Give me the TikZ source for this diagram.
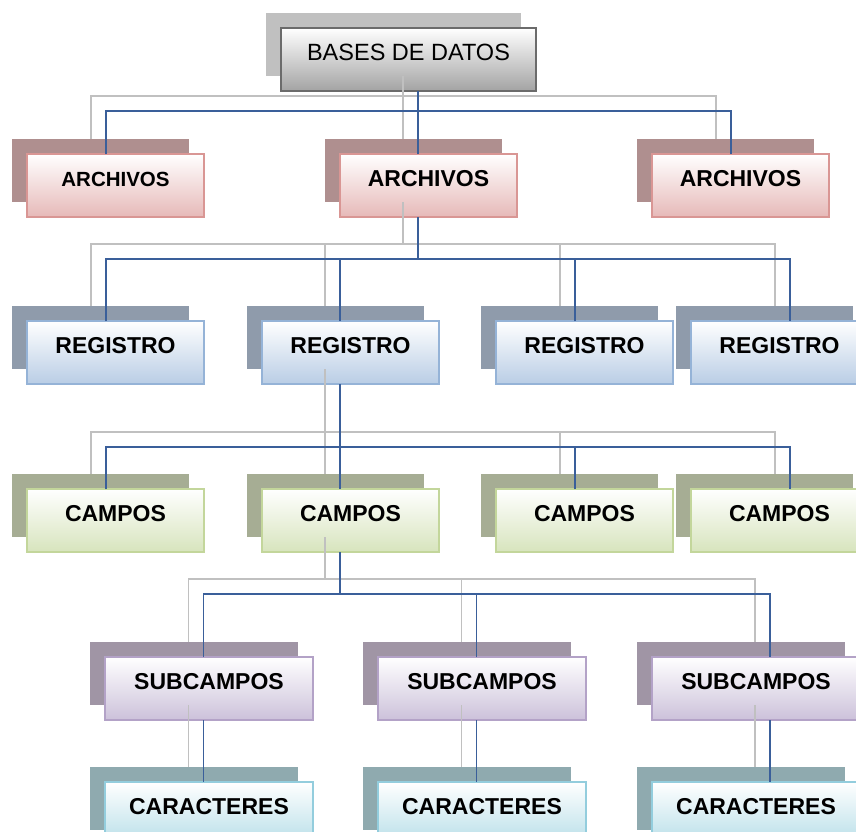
\documentclass[tikz,border=0pt]{standalone}
\usepackage{fontspec}
\setmainfont{Liberation Sans}
\definecolor{topsh}{HTML}{C0C0C0}
\definecolor{topbd}{HTML}{6B6B6B}
\definecolor{topbt}{HTML}{A3A3A3}
\definecolor{arsh}{HTML}{AF8F8F}
\definecolor{arbd}{HTML}{D99694}
\definecolor{arbt}{HTML}{E6B9B8}
\definecolor{resh}{HTML}{8F9BAB}
\definecolor{rebd}{HTML}{95B3D7}
\definecolor{rebt}{HTML}{B9CDE5}
\definecolor{cash}{HTML}{A6AD94}
\definecolor{cabd}{HTML}{C3D69B}
\definecolor{cabt}{HTML}{D7E4BD}
\definecolor{sush}{HTML}{A095A5}
\definecolor{subd}{HTML}{B3A2C7}
\definecolor{subt}{HTML}{CCC1DA}
\definecolor{crsh}{HTML}{8FAAAF}
\definecolor{crbd}{HTML}{93CDDD}
\definecolor{crbt}{HTML}{B7DEE8}
\definecolor{conn}{HTML}{3A5F9A}
\definecolor{gline}{HTML}{C0C0C0}
\tikzset{
  base/.style={inner sep=0pt, outer sep=0pt, text height=32.5pt, text depth=30.5pt, anchor=north west,
    font=\fontsize{23}{27}\selectfont\bfseries},
  narrow/.style={base, minimum width=177pt},
  wide/.style={base, minimum width=208pt},
  boxbd/.style={draw=#1, line width=2pt},
  topbox/.style={base, minimum width=255pt, draw=topbd, line width=2pt, top color=white, bottom color=topbt,
    font=\fontsize{23.5}{27}\selectfont},
  topshad/.style={base, minimum width=255pt, fill=topsh},
  archbox/.style={narrow, boxbd=arbd, top color=white, bottom color=arbt},
  archshad/.style={narrow, fill=arsh},
  regbox/.style={narrow, boxbd=rebd, top color=white, bottom color=rebt},
  regshad/.style={narrow, fill=resh},
  campbox/.style={narrow, boxbd=cabd, top color=white, bottom color=cabt},
  campshad/.style={narrow, fill=cash},
  subbox/.style={wide, boxbd=subd, top color=white, bottom color=subt},
  subshad/.style={wide, fill=sush},
  carbox/.style={wide, boxbd=crbd, top color=white, bottom color=crbt},
  carshad/.style={wide, fill=crsh},
  bl/.style={draw=conn, line width=1.7pt},
  gl/.style={draw=gline, line width=1.8pt},
}
\begin{document}
\begin{tikzpicture}[x=1pt,y=-1pt]
\useasboundingbox (0,0) rectangle (856,831);
\clip (0,0) rectangle (856,831);
% shadows
\node[topshad] (tops) at (266,13) {};
\node[archshad] (a1s) at (12,139) {};
\node[archshad] (a2s) at (325,139) {};
\node[archshad] (a3s) at (637,139) {};
\node[regshad] (r1s) at (12,306) {};
\node[regshad] (r2s) at (247,306) {};
\node[regshad] (r3s) at (481,306) {};
\node[regshad] (r4s) at (676,306) {};
\node[campshad] (c1s) at (12,474) {};
\node[campshad] (c2s) at (247,474) {};
\node[campshad] (c3s) at (481,474) {};
\node[campshad] (c4s) at (676,474) {};
\node[subshad] (s1s) at (90,642) {};
\node[subshad] (s2s) at (363,642) {};
\node[subshad] (s3s) at (637,642) {};
\node[carshad] (k1s) at (90,767) {};
\node[carshad] (k2s) at (363,767) {};
\node[carshad] (k3s) at (637,767) {};
% boxes
\node[topbox] (top) at (281,28) {BASES DE DATOS};
\node[archbox, font=\fontsize{20.5}{24}\selectfont\bfseries] (a1) at (27,154) {ARCHIVOS};
\node[archbox] (a2) at (340,154) {ARCHIVOS};
\node[archbox] (a3) at (652,154) {ARCHIVOS};
\node[regbox] (r1) at (27,321) {REGISTRO};
\node[regbox] (r2) at (262,321) {REGISTRO};
\node[regbox] (r3) at (496,321) {REGISTRO};
\node[regbox] (r4) at (691,321) {REGISTRO};
\node[campbox] (c1) at (27,489) {CAMPOS};
\node[campbox] (c2) at (262,489) {CAMPOS};
\node[campbox] (c3) at (496,489) {CAMPOS};
\node[campbox] (c4) at (691,489) {CAMPOS};
\node[subbox] (s1) at (105,657) {SUBCAMPOS};
\node[subbox] (s2) at (378,657) {SUBCAMPOS};
\node[subbox] (s3) at (652,657) {SUBCAMPOS};
\node[carbox] (k1) at (105,782) {CARACTERES};
\node[carbox] (k2) at (378,782) {CARACTERES};
\node[carbox] (k3) at (652,782) {CARACTERES};
% bus levels
\coordinate (b1s) at (0,96);  \coordinate (b1) at (0,111);
\coordinate (b2s) at (0,244); \coordinate (b2) at (0,259);
\coordinate (b3s) at (0,432); \coordinate (b3) at (0,447);
\coordinate (b4s) at (0,579); \coordinate (b4) at (0,594);
% connectors: gray (shadow) first, then blue
\foreach \s/\st in {s/gl,/bl}{
  % level 1
  \draw[\st] ([xshift=9.5pt]top\s.south) -- ([xshift=9.5pt]top\s.south |- b1\s);
  \draw[\st] ([xshift=-9.5pt]a1\s.north) |- ([xshift=-9.5pt]a3\s.north |- b1\s) -- ([xshift=-9.5pt]a3\s.north);
  \draw[\st] ([xshift=-10.5pt]a2\s.north) -- ([xshift=-10.5pt]a2\s.north |- b1\s);
  % level 2
  \draw[\st] ([xshift=-10.5pt]a2\s.south) -- ([xshift=-10.5pt]a2\s.south |- b2\s);
  \draw[\st] ([xshift=-9.5pt]r1\s.north) |- ([xshift=10.5pt]r4\s.north |- b2\s) -- ([xshift=10.5pt]r4\s.north);
  \draw[\st] ([xshift=-10.5pt]r2\s.north) -- ([xshift=-10.5pt]r2\s.north |- b2\s);
  \draw[\st] ([xshift=-9.5pt]r3\s.north) -- ([xshift=-9.5pt]r3\s.north |- b2\s);
  % level 3
  \draw[\st] ([xshift=-10.5pt]r2\s.south) -- ([xshift=-10.5pt]r2\s.south |- b3\s);
  \draw[\st] ([xshift=-9.5pt]c1\s.north) |- ([xshift=10.5pt]c4\s.north |- b3\s) -- ([xshift=10.5pt]c4\s.north);
  \draw[\st] ([xshift=-10.5pt]c2\s.north) -- ([xshift=-10.5pt]c2\s.north |- b3\s);
  \draw[\st] ([xshift=-9.5pt]c3\s.north) -- ([xshift=-9.5pt]c3\s.north |- b3\s);
  % level 4
  \draw[\st] ([xshift=-10.5pt]c2\s.south) -- ([xshift=-10.5pt]c2\s.south |- b4\s);
  \draw[\st] ([xshift=-5.5pt]s1\s.north) |- ([xshift=14pt]s3\s.north |- b4\s) -- ([xshift=14pt]s3\s.north);
  \draw[\st] ([xshift=-5.5pt]s2\s.north) -- ([xshift=-5.5pt]s2\s.north |- b4\s);
  % level 5
  \draw[\st] ([xshift=-5.5pt]s1\s.south) -- ([xshift=-5.5pt]k1\s.north);
  \draw[\st] ([xshift=-5.5pt]s2\s.south) -- ([xshift=-5.5pt]k2\s.north);
  \draw[\st] ([xshift=14pt]s3\s.south) -- ([xshift=14pt]k3\s.north);
}
\end{tikzpicture}
\end{document}
